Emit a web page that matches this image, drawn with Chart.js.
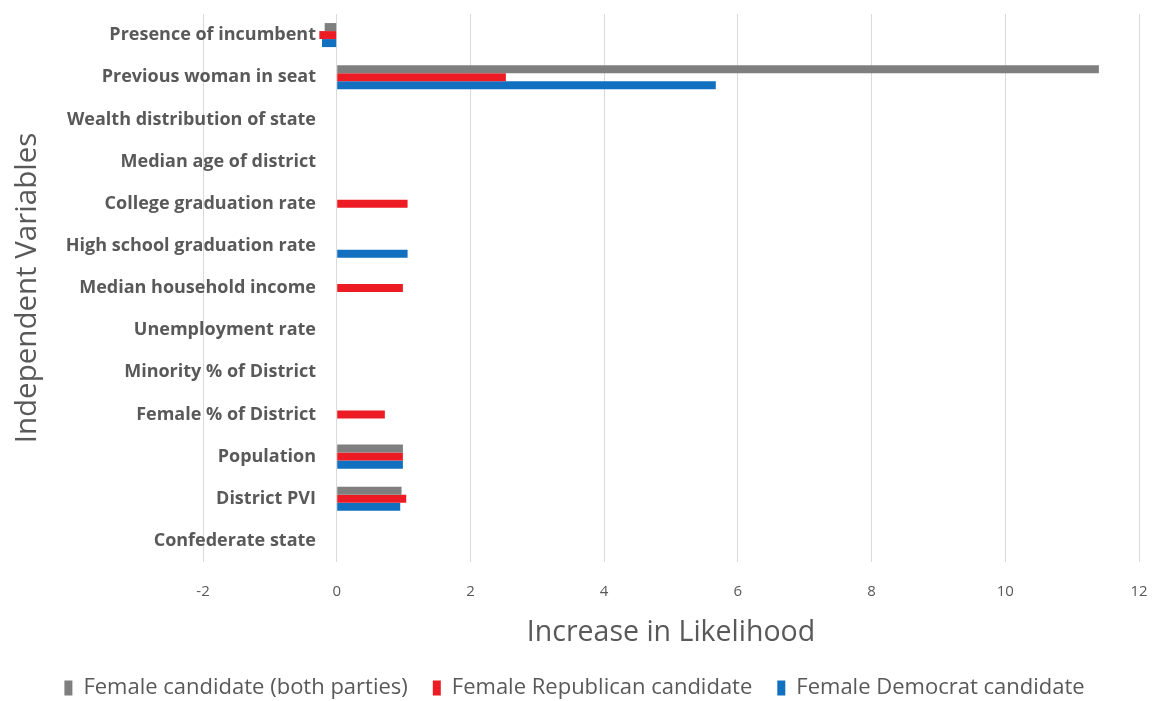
<!DOCTYPE html>
<html>
<head>
<meta charset="utf-8">
<script src="https://cdn.jsdelivr.net/npm/chart.js@4.4.1/dist/chart.umd.min.js"></script>
<style>
  html, body { margin: 0; padding: 0; background: #ffffff; }
  #wrap { width: 1157px; height: 701px; }
</style>
</head>
<body>
<div id="wrap"><canvas id="chart" width="1157" height="701"></canvas></div>
<script>
// Independent variables (top to bottom)
const variables = [
  "Presence of incumbent",
  "Previous woman in seat",
  "Wealth distribution of state",
  "Median age of district",
  "College graduation rate",
  "High school graduation rate",
  "Median household income",
  "Unemployment rate",
  "Minority % of District",
  "Female % of District",
  "Population",
  "District PVI",
  "Confederate state"
];

// Increase in likelihood per variable
const bothParties = [-0.18, 11.40, null, null, null, null, null, null, null, null, 0.99, 0.97, null];
const republican  = [-0.26, 2.53, null, null, 1.06, null, 0.99, null, null, 0.72, 0.99, 1.04, null];
const democrat    = [-0.22, 5.67, null, null, null, 1.06, null, null, null, null, 0.99, 0.95, null];

const seriesNames = [
  "Female candidate (both parties)",
  "Female Republican candidate",
  "Female Democrat candidate"
];

const xTicks = [-2, 0, 2, 4, 6, 8, 10, 12];

const textGrey = "#595959";
const colours = ["#7f7f7f", "#ed1c24", "#1170c0"];

const PLOT_LEFT = 203;
const LABEL_RIGHT = 316;
const PAD_LEFT = 10;
const labelFont = { family: "'Open Sans', sans-serif", size: 18, weight: "bold" };

// Category labels sit right-aligned against the zero line, inside the plot.
const measureCtx = document.createElement("canvas").getContext("2d");
measureCtx.font = `bold ${labelFont.size}px ${labelFont.family}`;
const widestLabel = Math.max(...variables.map(t => measureCtx.measureText(t).width));
const labelPadding = (LABEL_RIGHT - PLOT_LEFT) - widestLabel;

new Chart(document.getElementById("chart"), {
  type: "bar",
  data: {
    labels: variables,
    datasets: [bothParties, republican, democrat].map((vals, i) => ({
      label: seriesNames[i],
      data: vals,
      backgroundColor: colours[i],
      borderWidth: 0,
      barPercentage: 1.0,
      categoryPercentage: 0.57
    }))
  },
  options: {
    indexAxis: "y",
    responsive: false,
    animation: false,
    layout: { padding: { left: PAD_LEFT, right: 18, top: 14, bottom: -8 } },
    plugins: {
      tooltip: { enabled: false },
      legend: {
        position: "bottom",
        labels: {
          boxWidth: 8,
          boxHeight: 15,
          padding: 25,
          color: textGrey,
          font: { family: "'Open Sans', sans-serif", size: 22 }
        }
      }
    },
    scales: {
      x: {
        type: "linear",
        min: -2,
        max: 12,
        afterBuildTicks: (scale) => { scale.ticks = xTicks.map(v => ({ value: v })); },
        afterFit: (scale) => {
          scale.height = 90;
          scale.paddingLeft = 0;
          scale.paddingRight = 0;
        },
        grid: { color: "#d9d9d9", lineWidth: 1, drawTicks: false },
        border: { display: false },
        ticks: {
          color: textGrey,
          padding: 21,
          font: { family: "'Open Sans', sans-serif", size: 15 }
        },
        title: {
          display: true,
          text: "Increase in Likelihood",
          color: textGrey,
          padding: { top: 4, bottom: 2 },
          font: { family: "'Open Sans', sans-serif", size: 28.5 }
        }
      },
      y: {
        afterFit: (scale) => { scale.width = PLOT_LEFT - PAD_LEFT; },
        grid: { display: false, drawTicks: false },
        border: { display: false },
        ticks: {
          mirror: true,
          crossAlign: "far",
          color: textGrey,
          padding: labelPadding,
          font: labelFont
        },
        title: {
          display: true,
          text: "Independent Variables",
          color: textGrey,
          padding: { top: 0, bottom: 0 },
          font: { family: "'Open Sans', sans-serif", size: 29.5 }
        }
      }
    }
  }
});
</script>
</body>
</html>
